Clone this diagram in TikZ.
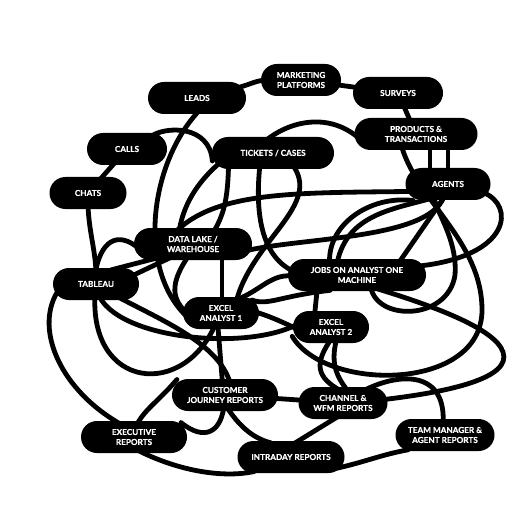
\documentclass[tikz,border=0pt]{standalone}
\usepackage{fontspec}
\newfontfamily\boxfont{Lato}[BoldFeatures={FakeBold=0.4}]
\pgfdeclarelayer{bg}
\pgfsetlayers{bg,main}
\tikzset{
  src/.style={rectangle, rounded corners=16pt, fill=black, text=white,
    minimum height=32pt, inner xsep=6pt, inner ysep=2pt, align=center,
    font=\boxfont\bfseries\fontsize{8.2}{10}\selectfont},
  wire/.style={line width=4.8pt, black, line cap=round,
    shorten >=-8pt, shorten <=-8pt}
}

\begin{document}
\begin{tikzpicture}[x=1pt,y=-1pt]
\useasboundingbox (0,0) rectangle (516,521);
%%% sources along the top
\node[src, minimum width=80pt]  (mkt)      at (301,80)  {MARKETING\\PLATFORMS};
\node[src, minimum width=90pt]  (surveys)  at (398,93)  {SURVEYS};
\node[src, minimum width=98pt]  (leads)    at (197,98)  {LEADS};
\node[src, minimum width=80pt]  (calls)    at (127,149) {CALLS};
\node[src, minimum width=77pt]  (chats)    at (88,193)  {CHATS};
\node[src, minimum width=122pt] (tickets)  at (273,153) {TICKETS / CASES};
\node[src, minimum width=123pt] (products) at (416,134) {PRODUCTS \&\\TRANSACTIONS};
\node[src, minimum width=85pt]  (agents)   at (448,184) {AGENTS};
%%% middle: storage and the analysts
\node[src, minimum width=118pt] (datalake) at (193,244) {DATA LAKE /\\WAREHOUSE};
\node[src, minimum width=86pt]  (tableau)  at (96,284)  {TABLEAU};
\node[src, minimum width=138pt] (jobs)     at (357,275) {JOBS ON ANALYST ONE\\MACHINE};
\node[src, minimum width=76pt]  (excela)   at (221,313) {EXCEL\\ANALYST 1};
\node[src, minimum width=76pt]  (excelb)   at (331,327) {EXCEL\\ANALYST 2};
%%% reports at the bottom
\node[src, minimum width=106pt] (journey)  at (225,395) {CUSTOMER\\JOURNEY REPORTS};
\node[src, minimum width=89pt]  (channel)  at (343,403) {CHANNEL \&\\WFM REPORTS};
\node[src, minimum width=106pt] (exec)     at (134,437) {EXECUTIVE\\REPORTS};
\node[src, minimum width=107pt] (intraday) at (291,457) {INTRADAY REPORTS};
\node[src, minimum width=99pt]  (team)     at (445,435) {TEAM MANAGER \&\\AGENT REPORTS};
%
\begin{pgfonlayer}{bg}
\begin{scope}[wire]
%%% outer ring
\draw (leads) .. controls (252,84) and (256,80) .. (mkt);
\draw (mkt) -- (surveys);
\draw (surveys) -- (products);
\draw (calls.30) .. controls (165,125) and (210,125) .. (tickets.180);
\draw (calls) -- (chats);
\draw (chats) .. controls (88,230) and (96,250) .. (tableau);
\draw (tickets.100) .. controls (290,120) and (330,112) .. (products.180);
\draw ([xshift=14pt]products.south) -- ([xshift=-18pt]agents.north);
\draw ([xshift=32pt]products.south) -- (agents.north);
\draw (leads.-95) .. controls (150,160) and (135,270) .. (excela.180);
%%% into the data lake
\draw (tableau.90) .. controls (100,240) and (118,230) .. (datalake.180);
\draw (tableau.35) -- (datalake.200);
\draw (tableau.15) -- (datalake.210);
\draw (tickets.195) .. controls (198,182) and (182,205) .. (datalake.130);
\draw (tickets.-160) .. controls (228,200) and (224,215) .. (datalake.35);
\draw (agents.190) .. controls (300,193) and (215,190) .. (datalake.130);
\draw (datalake.-5) .. controls (300,237) and (438,240) .. (agents.-105);
%%% agents and jobs
\draw (agents.-15) .. controls (515,205) and (512,256) .. (jobs.8);
\draw (agents.250) -- (jobs.20);
\draw (agents.200) .. controls (370,195) and (325,225) .. (jobs.150);
\draw (agents.215) .. controls (390,210) and (345,215) .. (jobs.140);
\draw (jobs.-50) .. controls (372,322) and (448,322) .. (455,275)
      .. controls (458,235) and (430,205) .. (agents.-135);
\draw (products.-130) .. controls (415,200) and (482,240) .. (482,310)
      .. controls (482,392) and (325,392) .. (excelb.-155);
\draw (channel.5) .. controls (450,392) and (512,378) .. (503,352)
      .. controls (495,328) and (430,305) .. (jobs.-30);
%%% tickets down to the analysts
\draw (tickets.-130) .. controls (254,215) and (262,258) .. (jobs.175);
\draw (tickets.-35) .. controls (325,205) and (250,240) .. (excela.45);
%%% analysts
\draw ([xshift=29pt]datalake.south) -- ([xshift=1pt]excela.north);
\draw (datalake.-115) .. controls (168,285) and (172,300) .. (excela.175);
\draw ([xshift=-40pt]jobs.south) -- ([xshift=-16pt]excelb.north);
\draw (excela.0) .. controls (270,316) and (282,322) .. (excelb.180);
\draw (excela.35) .. controls (262,290) and (272,272) .. (jobs.180);
\draw (jobs.205) .. controls (280,296) and (268,306) .. (excela.15);
\draw (tableau.-95) .. controls (88,390) and (185,400) .. (excela.-115);
\draw (tableau.-75) .. controls (115,340) and (250,352) .. (excelb.180);
\draw (tableau.-30) .. controls (165,322) and (222,345) .. (journey.75);
\draw (excela.-100) -- (journey.100);
%%% reports
\draw (excelb.-100) .. controls (312,365) and (318,378) .. (channel.120);
\draw (excelb.-75) .. controls (330,362) and (335,375) .. (channel.85);
\draw (team.95) .. controls (448,370) and (400,372) .. (channel.30);
\draw (channel.-120) -- (intraday.65);
\draw (journey) -- (channel);
\draw (journey.170) .. controls (158,402) and (143,410) .. (exec.75);
\draw (journey.-95) .. controls (222,432) and (205,442) .. (exec.10);
\draw (journey.-75) .. controls (238,425) and (252,438) .. (intraday.150);
\draw (exec.-60) .. controls (180,472) and (225,478) .. (intraday.200);
\draw (tableau.200) .. controls (35,330) and (60,390) .. (exec.140);
\draw (team.200) .. controls (380,455) and (365,462) .. (intraday.-10);
\end{scope}
\end{pgfonlayer}
\end{tikzpicture}
\end{document}
